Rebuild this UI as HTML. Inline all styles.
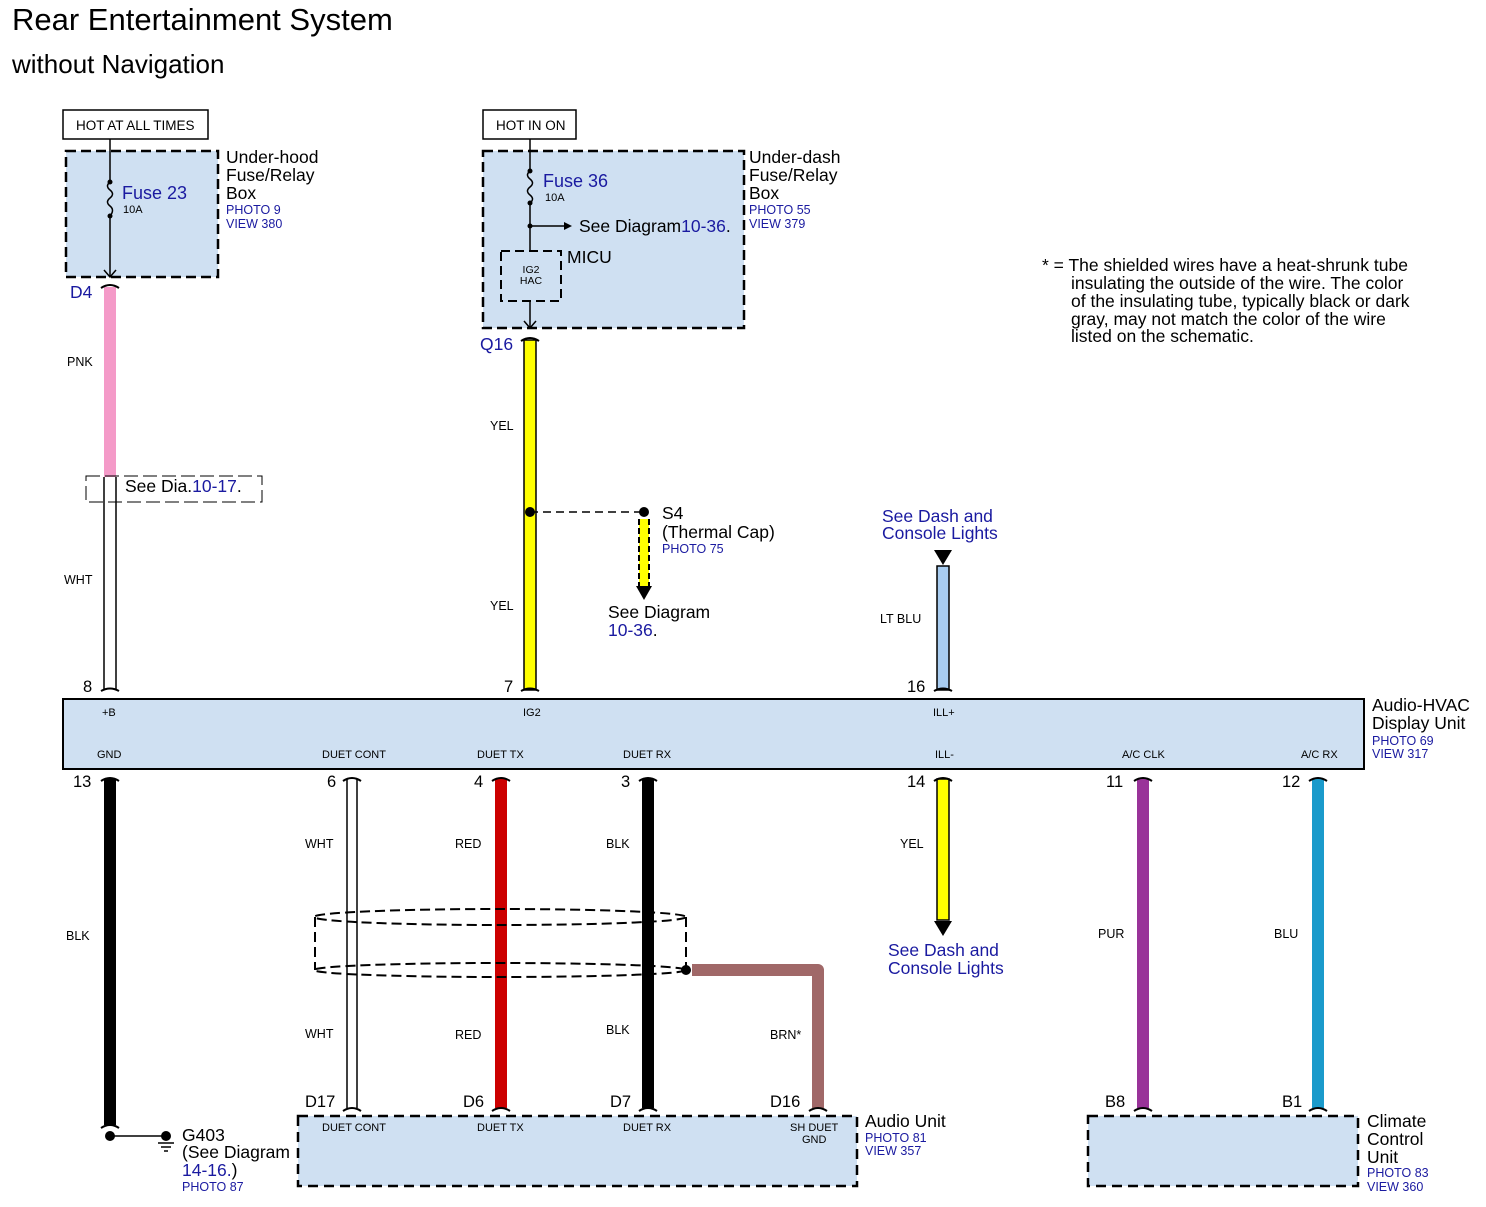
<!DOCTYPE html>
<html><head><meta charset="utf-8"><style>
html,body{margin:0;padding:0;background:#fff;}
svg{display:block;font-family:"Liberation Sans",Arial,sans-serif;}
.s{font-size:12.5px;fill:#000}
.t{font-size:11px;fill:#000}
.m{font-size:17.5px;fill:#000}
.b{font-size:17.5px;fill:#1a1aa0}
.p{font-size:12.5px;fill:#1a1aa0}
.n{font-size:16.5px;fill:#000}
.blu{fill:#1a1aa0}
</style></head><body>
<svg width="1486" height="1207" viewBox="0 0 1486 1207" xmlns="http://www.w3.org/2000/svg">
<text x="12" y="30" style="font-size:31px">Rear Entertainment System</text>
<text x="12" y="73" style="font-size:26px">without Navigation</text>

<!-- HOT AT ALL TIMES -->
<rect x="63" y="110" width="145" height="29" fill="#fff" stroke="#000" stroke-width="1.5"/>
<text x="76" y="130" class="s" style="font-size:13.5px">HOT AT ALL TIMES</text>
<rect x="66" y="151" width="152" height="126" fill="#cfe0f2" stroke="#000" stroke-width="2.5" stroke-dasharray="10,5"/>
<line x1="110" y1="139" x2="110" y2="180" stroke="#000" stroke-width="1.5"/>
<circle cx="110" cy="182" r="2.5"/><circle cx="110" cy="216" r="2.5"/>
<path d="M110 182 q-5 4 0 8 q5 4 0 8 q-5 4 0 8 q5 4 0 10" fill="none" stroke="#000" stroke-width="1.5"/>
<line x1="110" y1="216" x2="110" y2="276" stroke="#000" stroke-width="1.5"/>
<path d="M104 270 L110 277 L116 270" fill="none" stroke="#000" stroke-width="1.5"/>
<text x="122" y="199" class="b" style="font-size:18px">Fuse 23</text>
<text x="123" y="213" class="t">10A</text>
<text x="226" y="163" class="m">Under-hood</text>
<text x="226" y="181" class="m">Fuse/Relay</text>
<text x="226" y="199" class="m">Box</text>
<text x="226" y="214" class="p">PHOTO 9</text>
<text x="226" y="228" class="p">VIEW 380</text>
<text x="70" y="298" class="b">D4</text>

<!-- PNK / WHT -->
<rect x="104" y="287" width="12" height="190" fill="#f49ac8"/>
<line x1="104" y1="477" x2="104" y2="690" stroke="#000" stroke-width="1.5"/>
<line x1="116" y1="477" x2="116" y2="690" stroke="#000" stroke-width="1.5"/>
<path d="M101 288 Q110 282 119 288" fill="none" stroke="#000" stroke-width="2"/>
<path d="M101 691 Q110 686 119 691" fill="none" stroke="#000" stroke-width="2"/>
<text x="67" y="366" class="s">PNK</text>
<text x="64" y="584" class="s">WHT</text>
<rect x="86" y="476" width="176" height="26" fill="none" stroke="#000" stroke-width="1" stroke-dasharray="14,5"/>
<rect x="120" y="478" width="140" height="22" fill="#fff"/>
<text x="125" y="492" class="m">See Dia.<tspan class="blu">10-17</tspan>.</text>
<text x="83" y="692" class="n">8</text>

<!-- HOT IN ON -->
<rect x="483" y="110" width="93" height="29" fill="#fff" stroke="#000" stroke-width="1.5"/>
<text x="496" y="130" class="s" style="font-size:13.5px">HOT IN ON</text>
<rect x="483" y="151" width="261" height="177" fill="#cfe0f2" stroke="#000" stroke-width="2.5" stroke-dasharray="10,5"/>
<line x1="530" y1="139" x2="530" y2="170" stroke="#000" stroke-width="1.5"/>
<circle cx="530" cy="171" r="2.5"/><circle cx="530" cy="203" r="2.5"/>
<path d="M530 171 q-5 4 0 8 q5 4 0 8 q-5 4 0 8 q5 4 0 8" fill="none" stroke="#000" stroke-width="1.5"/>
<line x1="530" y1="203" x2="530" y2="251" stroke="#000" stroke-width="1.5"/>
<circle cx="530" cy="226" r="2.5"/>
<line x1="530" y1="226" x2="566" y2="226" stroke="#000" stroke-width="1.5"/>
<path d="M564 222 L572 226 L564 230 Z"/>
<text x="543" y="187" class="b" style="font-size:18px">Fuse 36</text>
<text x="545" y="201" class="t">10A</text>
<text x="579" y="232" class="m">See Diagram<tspan class="blu">10-36</tspan>.</text>
<rect x="501" y="251" width="60" height="50" fill="none" stroke="#000" stroke-width="2" stroke-dasharray="9,5"/>
<text x="531" y="273" class="t" text-anchor="middle" style="font-size:10.5px">IG2</text>
<text x="531" y="284" class="t" text-anchor="middle" style="font-size:10.5px">HAC</text>
<text x="567" y="263" class="m">MICU</text>
<line x1="530" y1="301" x2="530" y2="327" stroke="#000" stroke-width="1.5"/>
<path d="M524 321 L530 328 L536 321" fill="none" stroke="#000" stroke-width="1.5"/>
<text x="749" y="163" class="m">Under-dash</text>
<text x="749" y="181" class="m">Fuse/Relay</text>
<text x="749" y="199" class="m">Box</text>
<text x="749" y="214" class="p">PHOTO 55</text>
<text x="749" y="228" class="p">VIEW 379</text>
<text x="480" y="350" class="b">Q16</text>

<!-- YEL top -->
<rect x="524" y="340" width="12" height="350" fill="#ffff00" stroke="#000" stroke-width="1.5"/>
<path d="M521 341 Q530 335 539 341" fill="none" stroke="#000" stroke-width="2"/>
<path d="M521 691 Q530 686 539 691" fill="none" stroke="#000" stroke-width="2"/>
<text x="490" y="430" class="s">YEL</text>
<text x="490" y="610" class="s">YEL</text>
<circle cx="530" cy="512" r="5"/>
<line x1="530" y1="512" x2="644" y2="512" stroke="#000" stroke-width="1.5" stroke-dasharray="8,5"/>
<circle cx="644" cy="512" r="5"/>
<rect x="639" y="519" width="10" height="67" fill="#ffff00"/>
<line x1="639" y1="519" x2="639" y2="586" stroke="#000" stroke-width="2" stroke-dasharray="6,3"/>
<line x1="649" y1="519" x2="649" y2="586" stroke="#000" stroke-width="2" stroke-dasharray="6,3"/>
<path d="M636 586 L652 586 L644 600 Z"/>
<text x="662" y="519" class="m">S4</text>
<text x="662" y="538" class="m">(Thermal Cap)</text>
<text x="662" y="553" class="p">PHOTO 75</text>
<text x="608" y="618" class="m">See Diagram</text>
<text x="608" y="636" class="b">10-36<tspan fill="#000">.</tspan></text>
<text x="504" y="692" class="n">7</text>

<!-- note -->
<text x="1042" y="271" class="m">* = The shielded wires have a heat-shrunk tube</text>
<text x="1071" y="289" class="m">insulating the outside of the wire. The color</text>
<text x="1071" y="307" class="m">of the insulating tube, typically black or dark</text>
<text x="1071" y="325" class="m">gray, may not match the color of the wire</text>
<text x="1071" y="342" class="m">listed on the schematic.</text>

<!-- LT BLU -->
<text x="882" y="522" class="b">See Dash and</text>
<text x="882" y="539" class="b">Console Lights</text>
<path d="M934 550 L952 550 L943 565 Z"/>
<rect x="937" y="566" width="12" height="124" fill="#a8ccf0" stroke="#000" stroke-width="1.5"/>
<path d="M934 691 Q943 686 952 691" fill="none" stroke="#000" stroke-width="2"/>
<text x="880" y="623" class="s">LT BLU</text>
<text x="907" y="692" class="n">16</text>

<!-- main unit -->
<rect x="63" y="699" width="1301" height="70" fill="#cfe0f2" stroke="#000" stroke-width="2"/>
<g class="t" style="font-size:11px">
<text x="102" y="716">+B</text>
<text x="523" y="716">IG2</text>
<text x="933" y="716">ILL+</text>
<text x="97" y="758">GND</text>
<text x="322" y="758">DUET CONT</text>
<text x="477" y="758">DUET TX</text>
<text x="623" y="758">DUET RX</text>
<text x="935" y="758">ILL-</text>
<text x="1122" y="758">A/C CLK</text>
<text x="1301" y="758">A/C RX</text>
</g>
<text x="1372" y="711" class="m">Audio-HVAC</text>
<text x="1372" y="729" class="m">Display Unit</text>
<text x="1372" y="745" class="p">PHOTO 69</text>
<text x="1372" y="758" class="p">VIEW 317</text>

<!-- bottom wires -->
<rect x="104" y="779" width="12" height="346" fill="#000"/>
<rect x="346" y="779" width="12" height="329" fill="#fff"/>
<line x1="347" y1="779" x2="347" y2="1108" stroke="#000" stroke-width="1.5"/>
<line x1="357" y1="779" x2="357" y2="1108" stroke="#000" stroke-width="1.5"/>
<rect x="495" y="779" width="12" height="329" fill="#cc0000"/>
<rect x="642" y="779" width="12" height="329" fill="#000"/>
<rect x="937" y="779" width="12" height="141" fill="#ffff00" stroke="#000" stroke-width="1.5"/>
<path d="M934 921 L952 921 L943 936 Z"/>
<rect x="1137" y="779" width="12" height="329" fill="#993399"/>
<rect x="1312" y="779" width="12" height="329" fill="#1a9acb"/>
<path d="M692 970 L818 970 L818 1108" fill="none" stroke="#a06868" stroke-width="12" stroke-linejoin="round"/>
<g fill="none" stroke="#000" stroke-width="2">
<path d="M101 781 Q110 775 119 781"/><path d="M343 781 Q352 775 361 781"/><path d="M492 781 Q501 775 510 781"/>
<path d="M639 781 Q648 775 657 781"/><path d="M934 781 Q943 775 952 781"/><path d="M1134 781 Q1143 775 1152 781"/><path d="M1309 781 Q1318 775 1327 781"/>
<path d="M343 1111 Q352 1105 361 1111"/><path d="M492 1111 Q501 1105 510 1111"/><path d="M639 1111 Q648 1105 657 1111"/><path d="M809 1111 Q818 1105 827 1111"/>
<path d="M1134 1111 Q1143 1105 1152 1111"/><path d="M1309 1111 Q1318 1105 1327 1111"/>
<path d="M101 1128 Q110 1122 119 1128"/>
</g>
<!-- shield -->
<g fill="none" stroke="#000" stroke-width="2" stroke-dasharray="10,5">
<ellipse cx="500" cy="917" rx="186" ry="8"/>
<ellipse cx="500" cy="970" rx="186" ry="7"/>
<line x1="315" y1="917" x2="315" y2="970"/>
<line x1="686" y1="917" x2="686" y2="970"/>
</g>
<circle cx="686" cy="970" r="5"/>

<g class="n">
<text x="73" y="787">13</text><text x="327" y="787">6</text><text x="474" y="787">4</text><text x="621" y="787">3</text>
<text x="907" y="787">14</text><text x="1106" y="787">11</text><text x="1282" y="787">12</text>
</g>
<g class="s">
<text x="66" y="940">BLK</text>
<text x="305" y="848">WHT</text><text x="305" y="1038">WHT</text>
<text x="455" y="848">RED</text><text x="455" y="1039">RED</text>
<text x="606" y="848">BLK</text><text x="606" y="1034">BLK</text>
<text x="900" y="848">YEL</text>
<text x="1098" y="938">PUR</text>
<text x="1274" y="938">BLU</text>
<text x="770" y="1039">BRN*</text>
</g>
<text x="888" y="956" class="b">See Dash and</text>
<text x="888" y="974" class="b">Console Lights</text>

<!-- ground -->
<circle cx="110" cy="1136" r="5"/>
<line x1="110" y1="1136" x2="166" y2="1136" stroke="#000" stroke-width="1.5"/>
<circle cx="166" cy="1136" r="5"/>
<line x1="158" y1="1143" x2="174" y2="1143" stroke="#000" stroke-width="1.5"/>
<line x1="161" y1="1147" x2="171" y2="1147" stroke="#000" stroke-width="1.5"/>
<line x1="164" y1="1151" x2="168" y2="1151" stroke="#000" stroke-width="1.5"/>
<text x="182" y="1141" class="m">G403</text>
<text x="182" y="1158" class="m">(See Diagram</text>
<text x="182" y="1176" class="b">14-16.<tspan fill="#000">)</tspan></text>
<text x="182" y="1191" class="p">PHOTO 87</text>

<!-- audio unit -->
<rect x="298" y="1116" width="559" height="70" fill="#cfe0f2" stroke="#000" stroke-width="2.5" stroke-dasharray="10,6"/>
<g class="n"><text x="305" y="1107">D17</text><text x="463" y="1107">D6</text><text x="610" y="1107">D7</text><text x="770" y="1107">D16</text>
<text x="1105" y="1107">B8</text><text x="1282" y="1107">B1</text></g>
<g class="t" style="font-size:11px">
<text x="322" y="1131">DUET CONT</text><text x="477" y="1131">DUET TX</text><text x="623" y="1131">DUET RX</text>
<text x="790" y="1131">SH DUET</text><text x="802" y="1143">GND</text>
<text x="1132" y="1131">CLK</text><text x="1311" y="1131">SO</text>
</g>
<text x="865" y="1127" class="m">Audio Unit</text>
<text x="865" y="1142" class="p">PHOTO 81</text>
<text x="865" y="1155" class="p">VIEW 357</text>

<rect x="1088" y="1116" width="270" height="70" fill="#cfe0f2" stroke="#000" stroke-width="2.5" stroke-dasharray="10,6"/>
<text x="1367" y="1127" class="m">Climate</text>
<text x="1367" y="1145" class="m">Control</text>
<text x="1367" y="1163" class="m">Unit</text>
<text x="1367" y="1177" class="p">PHOTO 83</text>
<text x="1367" y="1191" class="p">VIEW 360</text>
</svg>
</body></html>
